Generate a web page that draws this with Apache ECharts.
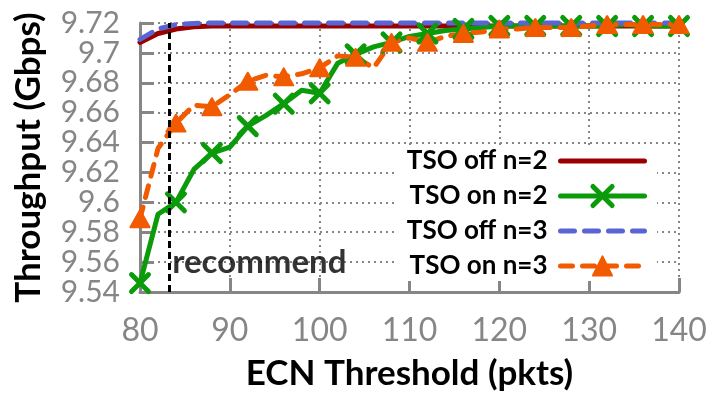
<!DOCTYPE html>
<html>
<head>
<meta charset="utf-8">
<script src="https://cdn.jsdelivr.net/npm/echarts@6/dist/echarts.min.js"></script>
<style>
  html, body { margin: 0; padding: 0; background: #fff; }
  #chart { width: 722px; height: 398px; }
</style>
</head>
<body>
<div id="chart"></div>
<script>
// ECN marking threshold (packets)
const thresholds = [80, 82, 84, 86, 88, 90, 92, 94, 96, 98, 100, 102, 104, 106, 108, 110,
                    112, 114, 116, 118, 120, 122, 124, 126, 128, 130, 132, 134, 136, 138, 140];

// Throughput (Gbps) per configuration
const tsoOffN2 = [9.707, 9.713, 9.716, 9.7175, 9.718, 9.718, 9.718, 9.718, 9.718, 9.718, 9.718,
                  9.718, 9.718, 9.718, 9.718, 9.718, 9.718, 9.718, 9.718, 9.718, 9.718, 9.718,
                  9.718, 9.718, 9.718, 9.718, 9.718, 9.718, 9.718, 9.718, 9.718];
const tsoOnN2  = [9.546, 9.592, 9.600, 9.622, 9.633, 9.637, 9.651, 9.658, 9.666, 9.675, 9.673,
                  9.693, 9.699, 9.704, 9.707, 9.711, 9.713, 9.715, 9.716, 9.717, 9.718, 9.718,
                  9.718, 9.718, 9.718, 9.718, 9.718, 9.719, 9.718, 9.718, 9.718];
const tsoOffN3 = [9.709, 9.716, 9.719, 9.7197, 9.720, 9.720, 9.720, 9.720, 9.720, 9.720, 9.720,
                  9.720, 9.720, 9.720, 9.720, 9.720, 9.720, 9.720, 9.720, 9.720, 9.720, 9.720,
                  9.720, 9.720, 9.720, 9.720, 9.720, 9.720, 9.720, 9.720, 9.720];
const tsoOnN3  = [9.589, 9.636, 9.653, 9.665, 9.664, 9.672, 9.681, 9.685, 9.684, 9.686, 9.690,
                  9.698, 9.697, 9.690, 9.707, 9.710, 9.707, 9.711, 9.713, 9.714, 9.716, 9.716,
                  9.717, 9.717, 9.717, 9.718, 9.719, 9.719, 9.719, 9.719, 9.719];

const seriesNames = ['TSO off n=2', 'TSO on n=2', 'TSO off n=3', 'TSO on n=3'];

// Recommended threshold and its annotation
const recommendX = 83.3;
const recommendLabel = 'recommend';
const recommendLabelY = 9.560;

// Axis ranges
const xMin = 80, xMax = 140, xStep = 10;
const yMin = 9.54, yMax = 9.72, yStep = 0.02;

const FONT = 'Lato';
const GRAY = '#868686';
const RED = '#9a0000', GREEN = '#0a9a0a', BLUE = '#5865d2', ORANGE = '#f25a00';
const BLUE_DASH = [14, 10], ORANGE_DASH = [12, 10];
const markerEvery = 4;

// Markers are shown only on every 4th packet count
function withMarkers(values) {
  return thresholds.map((x, i) =>
    x % markerEvery === 0 ? [x, values[i]] : { value: [x, values[i]], symbol: 'none' });
}
function plain(values) {
  return thresholds.map((x, i) => [x, values[i]]);
}

const crossPath = 'path://M0,0L10,10M10,0L0,10';

const chart = echarts.init(document.getElementById('chart'), null, { renderer: 'canvas' });

chart.setOption({
  animation: false,
  backgroundColor: '#fff',
  grid: { left: 140, right: 43, top: 23, bottom: 106 },
  xAxis: {
    type: 'value',
    min: xMin, max: xMax, interval: xStep,
    name: 'ECN Threshold (pkts)',
    nameLocation: 'middle',
    nameGap: 64,
    nameTextStyle: { color: '#000', fontSize: 35, fontWeight: 'bold', fontFamily: FONT },
    axisLine: { lineStyle: { color: GRAY, width: 3 } },
    axisTick: { inside: true, length: 14, lineStyle: { color: GRAY, width: 3 } },
    axisLabel: { color: GRAY, fontSize: 32, fontFamily: FONT, margin: 23 },
    splitLine: { show: true, lineStyle: { color: GRAY, width: 2, type: [2, 4] } }
  },
  yAxis: {
    type: 'value',
    min: yMin, max: yMax, interval: yStep,
    name: 'Throughput (Gbps)',
    nameLocation: 'middle',
    nameGap: 94,
    nameTextStyle: { color: '#000', fontSize: 35, fontWeight: 'bold', fontFamily: FONT },
    axisLine: { show: true, lineStyle: { color: GRAY, width: 3 } },
    axisTick: { show: true, inside: true, length: 14, lineStyle: { color: GRAY, width: 3 } },
    axisLabel: { color: GRAY, fontSize: 30, fontFamily: FONT, margin: 20 },
    splitLine: { show: true, lineStyle: { color: GRAY, width: 2, type: [2, 4] } }
  },
  legend: {
    orient: 'vertical',
    right: 65,
    top: 146,
    align: 'right',
    itemWidth: 84,
    itemHeight: 24,
    itemGap: 9,
    padding: [2, 10, 2, 10],
    backgroundColor: '#fff',
    lineStyle: { width: 5, cap: 'round' },
    textStyle: { color: '#000', fontSize: 26, fontWeight: 'bold', fontFamily: FONT, lineHeight: 24, padding: [0, 8, 0, 0] },
    data: [
      { name: seriesNames[0], itemStyle: { opacity: 0 }, lineStyle: { type: 'solid' } },
      { name: seriesNames[1], itemStyle: { borderWidth: 5 }, lineStyle: { type: 'solid' } },
      { name: seriesNames[2], itemStyle: { opacity: 0 }, lineStyle: { type: BLUE_DASH } },
      { name: seriesNames[3], itemStyle: { borderWidth: 2 }, lineStyle: { type: ORANGE_DASH } }
    ]
  },
  series: [
    {
      name: seriesNames[0], type: 'line', data: plain(tsoOffN2),
      symbol: 'none', clip: false,
      color: RED,
      lineStyle: { color: RED, width: 5, cap: 'round', join: 'round' }
    },
    {
      name: seriesNames[1], type: 'line', data: withMarkers(tsoOnN2),
      symbol: crossPath, symbolSize: 17, showAllSymbol: true, clip: false,
      color: GREEN,
      itemStyle: { color: GREEN, borderColor: GREEN, borderWidth: 5, borderCap: 'round' },
      lineStyle: { color: GREEN, width: 5, cap: 'round', join: 'round' }
    },
    {
      name: seriesNames[2], type: 'line', data: plain(tsoOffN3),
      symbol: 'none', clip: false,
      color: BLUE,
      lineStyle: { color: BLUE, width: 5, type: BLUE_DASH, cap: 'round', join: 'round' }
    },
    {
      name: seriesNames[3], type: 'line', data: withMarkers(tsoOnN3),
      symbol: 'triangle', symbolSize: [19, 17], showAllSymbol: true, clip: false,
      color: ORANGE,
      itemStyle: { color: ORANGE, borderColor: ORANGE, borderWidth: 2, borderJoin: 'round' },
      lineStyle: { color: ORANGE, width: 5, type: ORANGE_DASH, cap: 'round', join: 'round' }
    },
    {
      name: recommendLabel, type: 'scatter',
      data: [[recommendX, recommendLabelY]],
      symbol: 'circle', symbolSize: 1, silent: true,
      itemStyle: { color: 'rgba(0,0,0,0)' },
      label: {
        show: true, position: 'right', distance: 2,
        formatter: recommendLabel,
        color: '#000', fontSize: 33, fontWeight: 'bold', fontFamily: FONT
      },
      markLine: {
        silent: true, symbol: 'none',
        label: { show: false },
        lineStyle: { color: '#000', width: 3, type: [7, 4] },
        data: [{ xAxis: recommendX }]
      },
      z: 5
    }
  ]
});
</script>
</body>
</html>
